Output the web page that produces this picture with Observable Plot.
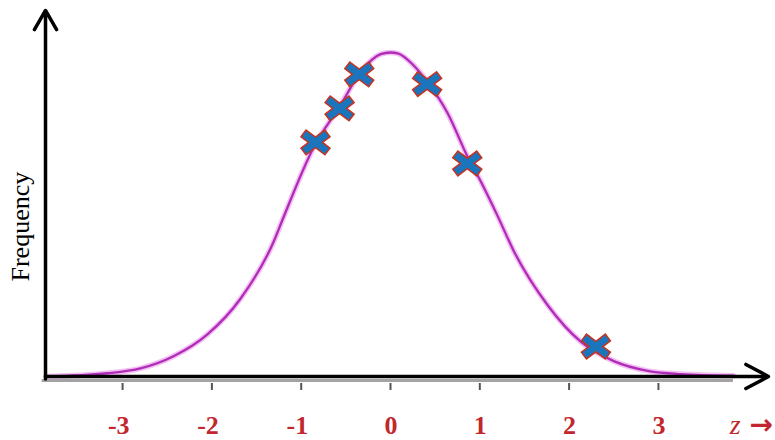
<!DOCTYPE html>
<html>
<head>
<meta charset="utf-8">
<script src="https://cdn.jsdelivr.net/npm/d3@7"></script>
<script src="https://cdn.jsdelivr.net/npm/@observablehq/plot@0.6"></script>
<style>
  html, body { margin: 0; padding: 0; background: #fff; }
  #chart svg { display: block; background: #fff; }
</style>
</head>
<body>
<div id="chart"></div>
<script>
// Bell curve of frequency against z, sampled along its length
const curveZ = [-3.86, -3.17, -2.80, -2.43, -2.05, -1.68, -1.31, -1.20, -0.86, -0.56, -0.34, -0.11, 0.00, 0.08, 0.26, 0.41, 0.64, 0.86, 1.01, 1.20, 1.38, 1.76, 2.13, 2.50, 2.88, 3.25, 3.84];
const curveFreq = [0.000, 0.004, 0.010, 0.025, 0.052, 0.096, 0.166, 0.196, 0.283, 0.335, 0.375, 0.398, 0.400, 0.399, 0.384, 0.364, 0.325, 0.272, 0.241, 0.198, 0.155, 0.088, 0.043, 0.019, 0.007, 0.003, 0.001];

// Observations marked on the curve
const sampleZ = [-0.84, -0.57, -0.35, 0.41, 0.86, 2.30];
const sampleFreq = [0.289, 0.331, 0.373, 0.361, 0.263, 0.037];

// z axis ticks and their labels
const zTicks = [-3, -2, -1, 0, 1, 2, 3];
const zTickLabels = ["-3", "-2", "-1", "0", "1", "2", "3"];

// Axis extents and title anchors (data units)
const zDomain = [-4.367, 4.311];
const freqDomain = [-0.00494, 0.4642];
const axisOriginZ = -3.863;
const zArrowEnd = 4.233;
const freqArrowEnd = 0.452;
const baseLineZ = [-3.90, 3.84];
const zTitleAt = [3.86, 4.15];
const freqTitleAt = [-4.143, 0.185];

const curve = curveZ.map((z, i) => ({z, f: curveFreq[i]}));
const samples = sampleZ.map((z, i) => ({z, f: sampleFreq[i]}));
const ticks = zTicks.map((z, i) => ({z, label: zTickLabels[i]}));

// Filled "X" marker: two crossed bars with a single outline
const crossSymbol = {
  draw(context, size) {
    const r = Math.sqrt(size / Math.PI);
    const a = r, b = 0.28 * r, t = 37 * Math.PI / 180;
    const c = Math.cos(t), s = Math.sin(t);
    const d1 = [c, s], n1 = [-s, c], d2 = [c, -s], n2 = [s, c];
    const pts = [];
    for (const [d, n] of [[d1, n1], [d2, n2]]) {
      for (const sg of [1, -1]) {
        for (const sn of [1, -1]) {
          pts.push([sg * a * d[0] + sn * b * n[0], sg * a * d[1] + sn * b * n[1]]);
        }
      }
    }
    pts.push([b / s, 0], [-b / s, 0], [0, b / c], [0, -b / c]);
    pts.sort((p, q) => Math.atan2(p[1], p[0]) - Math.atan2(q[1], q[0]));
    context.moveTo(pts[0][0], pts[0][1]);
    for (let i = 1; i < pts.length; i++) context.lineTo(pts[i][0], pts[i][1]);
    context.closePath();
  }
};

const serif = "Liberation Serif";
const red = "#c1272d";

const chart = Plot.plot({
  width: 775,
  height: 440,
  marginTop: 0,
  marginRight: 0,
  marginBottom: 60,
  marginLeft: 0,
  style: {background: "#fff"},
  x: {domain: zDomain, axis: null},
  y: {domain: freqDomain, axis: null},
  marks: [
    // grey tick line under the main axis
    Plot.ruleY([freqDomain[0]], {x1: baseLineZ[0], x2: baseLineZ[1], stroke: "#a3a3a3", strokeWidth: 3}),
    Plot.axisX(zTicks, {color: "none", stroke: "#555", strokeWidth: 2, tickSize: 7, dy: 3, label: null}),
    // the bell curve
    Plot.line(curve, {x: "z", y: "f", curve: "monotone-x", stroke: "#ea8cea", strokeWidth: 5.5, strokeOpacity: 0.55}),
    Plot.line(curve, {x: "z", y: "f", curve: "monotone-x", stroke: "#b02cb8", strokeWidth: 2.3}),
    // axes with open arrowheads
    Plot.arrow([{}], {x1: () => axisOriginZ, y1: () => 0, x2: () => zArrowEnd, y2: () => 0, stroke: "#000", strokeWidth: 3.5, headLength: 11, headAngle: 56}),
    Plot.arrow([{}], {x1: () => axisOriginZ, y1: () => freqDomain[0] * 0.6, x2: () => axisOriginZ, y2: () => freqArrowEnd, stroke: "#000", strokeWidth: 3.5, headLength: 9.5, headAngle: 60}),
    // observations
    Plot.dot(samples, {x: "z", y: "f", symbol: crossSymbol, r: 15, fill: "#1b75bc", stroke: "#c8321e", strokeWidth: 1.5}),
    // tick labels, digit centred on its tick
    Plot.text(ticks, {x: "z", text: "label", frameAnchor: "bottom", lineAnchor: "bottom", textAnchor: "end", dx: 7, dy: 53, fontSize: 26, fontWeight: "bold", fontFamily: serif, fill: red}),
    // axis title "z →"
    Plot.text(["z"], {x: () => zTitleAt[0], frameAnchor: "bottom", lineAnchor: "bottom", dy: 53, fontSize: 28, fontStyle: "italic", fontFamily: serif, fill: red}),
    Plot.text(["\u2192"], {x: () => zTitleAt[1], frameAnchor: "bottom", lineAnchor: "bottom", dy: 53, fontSize: 28, fontWeight: "bold", fontFamily: "DejaVu Sans", fill: red}),
    // vertical title
    Plot.text(["Frequency"], {x: () => freqTitleAt[0], y: () => freqTitleAt[1], rotate: -90, fontSize: 26, fontFamily: serif, fill: "#000"})
  ]
});

document.getElementById("chart").appendChild(chart);
</script>
</body>
</html>
